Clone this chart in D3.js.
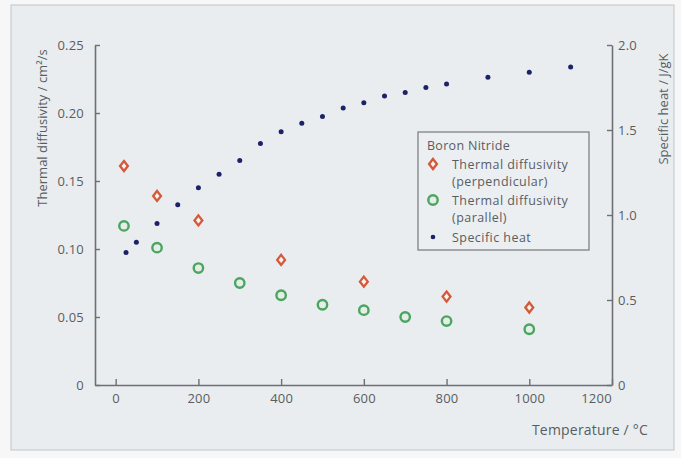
<!DOCTYPE html>
<html>
<head>
<meta charset="utf-8">
<script src="https://cdn.jsdelivr.net/npm/d3@7"></script>
<style>
  html, body { margin: 0; padding: 0; background: #f7f7f7; }
  svg { display: block; }
  text { font-family: "Open Sans", "Noto Sans", sans-serif; fill: #5a5d60; }
</style>
</head>
<body>
<svg id="chart" width="681" height="458"></svg>
<script>
// Boron nitride: thermal diffusivity (two orientations) and specific heat vs temperature
const perpTemps = [20, 100, 200, 400, 600, 800, 1000];
const perpDiffusivity = [0.161, 0.139, 0.121, 0.092, 0.076, 0.065, 0.057];

const paraTemps = [20, 100, 200, 300, 400, 500, 600, 700, 800, 1000];
const paraDiffusivity = [0.117, 0.101, 0.086, 0.075, 0.066, 0.059, 0.055, 0.050, 0.047, 0.041];

const heatTemps = [25, 50, 100, 150, 200, 250, 300, 350, 400, 450, 500, 550, 600, 650, 700, 750, 800, 900, 1000, 1100];
const specificHeat = [0.78, 0.84, 0.95, 1.06, 1.16, 1.24, 1.32, 1.42, 1.49, 1.54, 1.58, 1.63, 1.66, 1.70, 1.72, 1.75, 1.77, 1.81, 1.84, 1.87];

const xTicks = [0, 200, 400, 600, 800, 1000, 1200];
const leftTicks = [0, 0.05, 0.10, 0.15, 0.20, 0.25];
const leftTickLabels = ["0", "0.05", "0.10", "0.15", "0.20", "0.25"];
const rightTicks = [0, 0.5, 1.0, 1.5, 2.0];
const rightTickLabels = ["0", "0.5", "1.0", "1.5", "2.0"];

const legendTitle = "Boron Nitride";
const legendLines = [
  ["Thermal diffusivity", "(perpendicular)"],
  ["Thermal diffusivity", "(parallel)"],
  ["Specific heat"]
];

const colors = { perp: "#d4583a", para: "#4aa561", heat: "#1d2268", axis: "#6e7073" };

const svg = d3.select("#chart");

// panel
svg.append("rect").attr("x", 11).attr("y", 5).attr("width", 663).attr("height", 445)
  .attr("fill", "#e9edf0").attr("stroke", "#c9cccf").attr("stroke-width", 1.2);

const plot = { left: 95, right: 612, top: 45, bottom: 385 };

const x = d3.scaleLinear().domain([-50, 1200]).range([plot.left, plot.right]);
const yL = d3.scaleLinear().domain([0, 0.25]).range([plot.bottom, plot.top]);
const yR = d3.scaleLinear().domain([0, 2.0]).range([plot.bottom, plot.top]);

function styleAxis(g) {
  g.select(".domain").attr("stroke", colors.axis).attr("stroke-width", 1.6);
  g.selectAll(".tick line").attr("stroke", colors.axis).attr("stroke-width", 1.4);
  g.selectAll(".tick text").attr("fill", "#5a5d60")
    .style("font-size", "13px").style("letter-spacing", "0.2px");
}

// bottom axis, ticks pointing into the plot
const xAxisG = svg.append("g").attr("transform", `translate(0,${plot.bottom})`)
  .call(d3.axisBottom(x).tickValues(xTicks).tickFormat(d3.format("d"))
    .tickSizeInner(-6).tickSizeOuter(0).tickPadding(9))
  .call(styleAxis);
// last label nudged left so it clears the right axis's "0"
xAxisG.selectAll(".tick text").filter(d => d === 1200).attr("dx", -16);

// left axis
svg.append("g").attr("transform", `translate(${plot.left},0)`)
  .call(d3.axisLeft(yL).tickValues(leftTicks)
    .tickFormat((d, i) => leftTickLabels[i])
    .tickSizeInner(-5).tickSizeOuter(0).tickPadding(11))
  .call(styleAxis);

// right axis
svg.append("g").attr("transform", `translate(${plot.right},0)`)
  .call(d3.axisRight(yR).tickValues(rightTicks)
    .tickFormat((d, i) => rightTickLabels[i])
    .tickSizeInner(-5).tickSizeOuter(0).tickPadding(6))
  .call(styleAxis);

// axis titles
svg.append("text").attr("transform", "translate(47,128) rotate(-90)")
  .attr("text-anchor", "middle").style("font-size", "13px")
  .text("Thermal diffusivity / cm²/s");
svg.append("text").attr("transform", "translate(668,109) rotate(-90)")
  .attr("text-anchor", "middle").style("font-size", "13px")
  .text("Specific heat / J/gK");
svg.append("text").attr("x", 648).attr("y", 435).attr("text-anchor", "end")
  .style("font-size", "14px").style("letter-spacing", "0.2px")
  .text("Temperature / °C");

// markers
const diamondType = {
  draw(ctx, size) {
    const h = Math.sqrt(size) * 0.55, w = h * 0.78;
    ctx.moveTo(0, -h); ctx.lineTo(w, 0); ctx.lineTo(0, h); ctx.lineTo(-w, 0); ctx.closePath();
  }
};
const diamond = d3.symbol().type(diamondType).size(84);

function drawDiamond(sel) {
  sel.attr("d", diamond).attr("fill", "#fbf0ea").attr("stroke", colors.perp).attr("stroke-width", 2.3);
}
function drawCircle(sel) {
  sel.attr("r", 4.7).attr("fill", "#e4eee6").attr("stroke", colors.para).attr("stroke-width", 2.4);
}

svg.append("g").selectAll("path")
  .data(perpTemps.map((t, i) => [t, perpDiffusivity[i]]))
  .join("path")
  .attr("transform", d => `translate(${x(d[0])},${yL(d[1])})`)
  .call(drawDiamond);

svg.append("g").selectAll("circle")
  .data(paraTemps.map((t, i) => [t, paraDiffusivity[i]]))
  .join("circle")
  .attr("cx", d => x(d[0])).attr("cy", d => yL(d[1]))
  .call(drawCircle);

svg.append("g").selectAll("circle")
  .data(heatTemps.map((t, i) => [t, specificHeat[i]]))
  .join("circle")
  .attr("cx", d => x(d[0])).attr("cy", d => yR(d[1]))
  .attr("r", 2.5).attr("fill", colors.heat);

// legend
const lg = svg.append("g").attr("transform", "translate(418,132)");
lg.append("rect").attr("width", 171).attr("height", 118)
  .attr("fill", "#ebeff2").attr("stroke", "#808285").attr("stroke-width", 1.3);
lg.append("text").attr("x", 9).attr("y", 17.5)
  .style("font-size", "12.5px").style("letter-spacing", "0.3px").text(legendTitle);

const rowY = [32, 68, 105];
legendLines.forEach((lines, i) => {
  lines.forEach((line, j) => {
    lg.append("text").attr("x", 34).attr("y", rowY[i] + j * 17 + 4.5)
      .style("font-size", "12.5px").style("letter-spacing", "0.45px").text(line);
  });
});
lg.append("path").attr("transform", `translate(15,${rowY[0]})`).call(drawDiamond);
lg.append("circle").attr("cx", 15).attr("cy", rowY[1]).call(drawCircle);
lg.append("circle").attr("cx", 15).attr("cy", rowY[2]).attr("r", 2.3).attr("fill", colors.heat);
</script>
</body>
</html>
